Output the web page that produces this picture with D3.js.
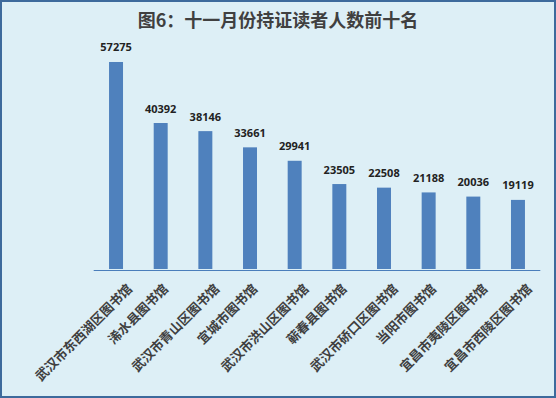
<!DOCTYPE html>
<html>
<head>
<meta charset="utf-8">
<script src="https://cdn.jsdelivr.net/npm/d3@7"></script>
<style>
  html, body { margin: 0; padding: 0; background: #fff; }
  svg { display: block; }
</style>
</head>
<body>
<svg id="chart" width="556" height="398"></svg>
<script>
// top ten libraries by card holders, November
const libraries = [
    "武汉市东西湖区图书馆", "浠水县图书馆", "武汉市青山区图书馆", "宜城市图书馆",
    "武汉市洪山区图书馆", "蕲春县图书馆", "武汉市硚口区图书馆", "当阳市图书馆",
    "宜昌市夷陵区图书馆", "宜昌市西陵区图书馆"
];
const readers = [57275, 40392, 38146, 33661, 29941, 23505, 22508, 21188, 20036, 19119];
const title = "图6：十一月份持证读者人数前十名";

const width = 556, height = 398;
const svg = d3.select("#chart");

svg.append("rect")
    .attr("x", 1).attr("y", 1)
    .attr("width", width - 2).attr("height", height - 2)
    .attr("fill", "#ddeff6")
    .attr("stroke", "#3d6a9c")
    .attr("stroke-width", 2);

svg.append("text")
    .attr("x", width / 2)
    .attr("y", 27)
    .attr("text-anchor", "middle")
    .attr("font-family", "'Noto Sans CJK SC', sans-serif")
    .attr("font-weight", "bold")
    .attr("font-size", 18)
    .attr("fill", "#404040")
    .text(title);

const axisY = 270;
const x = d3.scaleBand()
    .domain(libraries)
    .range([93.7, 540.3])
    .paddingInner(0.687)
    .paddingOuter(0.3435);

const y = d3.scaleLinear()
    .domain([0, 70000])
    .range([axisY - 1, axisY - 254]);

var data = libraries.map((d, i) => ({ name: d, value: readers[i] }));

svg.append("g")
    .selectAll("rect")
    .data(data)
    .enter()
    .append("rect")
    .attr("x", d => x(d.name))
    .attr("y", d => y(d.value))
    .attr("width", x.bandwidth())
    .attr("height", d => y(0) - y(d.value))
    .attr("fill", "#4f81bd");

svg.append("line")
    .attr("x1", 93.7).attr("x2", 540.3)
    .attr("y1", axisY + 0.5).attr("y2", axisY + 0.5)
    .attr("stroke", "#4a7ebb")
    .attr("stroke-width", 1);

// value labels
svg.append("g")
    .selectAll("text")
    .data(data)
    .enter()
    .append("text")
    .attr("x", d => x(d.name) + x.bandwidth() / 2)
    .attr("y", d => y(d.value) - 10.5)
    .attr("text-anchor", "middle")
    .attr("font-family", "'Open Sans', sans-serif")
    .attr("font-weight", "bold")
    .attr("font-size", 11)
    .attr("fill", "#222")
    .text(d => d.value);

// category labels, rotated -45deg; longer names sit a bit further right
svg.append("g")
    .selectAll("text")
    .data(data)
    .enter()
    .append("text")
    .attr("transform", d => {
        var cx = x(d.name) + x.bandwidth() / 2 + 5 + (d.name.length - 6) * 2.2;
        return "translate(" + cx + "," + (axisY + 16.5) + ") rotate(-45)";
    })
    .attr("dy", "0.35em")
    .attr("text-anchor", "end")
    .attr("font-family", "'Noto Sans CJK SC', sans-serif")
    .attr("font-weight", "bold")
    .attr("font-size", 13)
    .attr("fill", "#404040")
    .text(d => d.name);
</script>
</body>
</html>
